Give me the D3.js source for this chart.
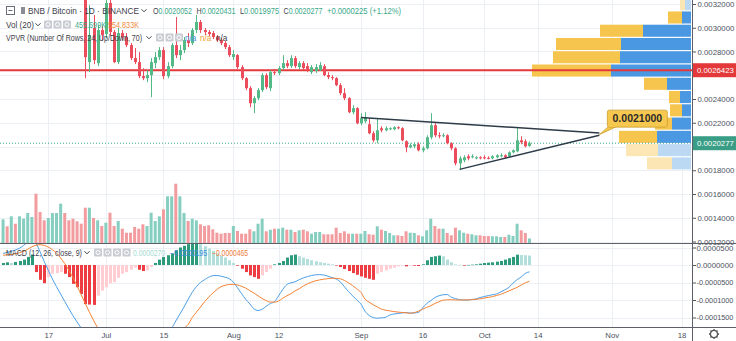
<!DOCTYPE html>
<html><head><meta charset="utf-8">
<script src="https://cdn.jsdelivr.net/npm/d3@7"></script>
<style>html,body{margin:0;padding:0;background:#fff;}svg{display:block;font-family:"Liberation Sans",Arial,sans-serif;}</style>
</head><body><svg id="c" width="736" height="341"></svg>
<script>
// ---------------- DATA (prices in units of 0.0000001 BTC) ----------------
const START_DATE = "2019-06-06";
const PRICE_UNIT = 1e-7;
const open = [40000,40800,40100,41500,40600,41300,42000,42600,43200,41000,39800,39300,40100,40900,41400,42300,40700,39600,38400,35000,
33000,27106,29975,27021,29806,29469,32085,29637,27106,29553,
29215,28540,27443,27106,25924,25755,26009,27021,27528,28118,
25924,26768,28540,27696,28118,28962,28709,29806,30481,29806,
29637,29553,29215,28962,28709,28371,27528,27696,26684,25755,
24911,23646,24068,24743,26009,24911,26262,26177,26599,27021,
26768,27443,26684,27021,26768,26262,26346,26431,26768,26009,
25840,25755,25165,24490,24068,22886,23224,21958,22127,21873,
21114,20523,21536,21367,21451,21451,21620,21536,20438,19932,
20017,20186,19679,19848,20776,21789,20945,20860,20945,20270,
19848,18582,18835,19173,19089,19004,19089,19089,19046,19004,
19089,19173,19257,19173,19511,19595,20523,20438,20052];
const high = [41200,41000,41900,41800,41700,42400,43100,43600,43500,41400,40200,40600,41300,41800,42800,42500,41000,39900,38700,35400,
33400,31916,31072,30228,30144,32760,32338,29806,29975,29806,
29553,28709,28287,27949,26599,26431,27443,27949,28371,28371,
27106,28709,30903,28540,29215,29553,29975,31072,30650,29975,
29806,29722,29384,29131,28878,28540,28118,27781,26853,25840,
25080,24236,24911,26177,26177,26431,26515,26768,27696,27274,
27696,27612,27190,27190,27021,26853,26937,27106,26937,26262,
26009,25840,25333,24911,24152,23477,23308,22802,22886,22380,
21283,22380,21705,21705,21620,21705,21705,21620,20523,20270,
20354,20354,20017,20945,22802,21958,21198,21114,21029,20354,
19932,19173,19257,19342,19342,19173,19173,19257,19173,19257,
19342,19426,19342,19595,19764,21536,20860,20607,20431];
const low = [39500,39700,39900,40200,40300,41000,41700,42300,40200,39300,38900,39000,39800,40600,41100,40300,39200,37900,34800,32800,
25755,26262,26937,26768,28962,29131,29300,27021,26937,28962,
28371,27274,26937,25755,25587,25418,24152,26599,27274,25671,
25755,26599,27443,27274,27865,28371,28540,29553,29553,29384,
29300,29047,28794,28540,28203,27528,27274,26515,25587,24743,
23308,22802,23899,24574,24827,24658,26009,26009,26431,26599,
26599,26599,26515,26431,26262,26093,26177,26346,25924,25671,
25587,25080,24321,23899,22802,22717,21873,21789,21958,21029,
20354,20270,21198,21283,21367,21367,21451,20438,19511,19848,
19848,19595,19511,19764,20607,20776,20692,20776,20186,19679,
18413,18076,18667,18835,19004,18920,18920,18920,18920,18920,
19004,19089,19004,19089,19426,19511,20186,19932,19975];
const close = [40800,40100,41500,40600,41300,42000,42600,43200,41000,39800,39300,40100,40900,41400,42300,40700,39600,38400,35000,33000,
27528,29384,27274,29806,29384,32085,29637,27106,29553,29215,
28540,27443,27106,25924,25755,26009,27106,27528,28118,25924,
26768,28540,27696,28118,28962,28709,29806,30481,29806,29637,
29469,29215,28962,28709,28371,27696,27781,26684,25755,24911,
23646,24068,24743,26009,24996,26262,26177,26599,27021,26768,
27443,26768,27021,26599,26431,26684,26684,26853,26009,25840,
25755,25165,24490,24068,22886,23224,21958,22380,22464,21114,
20523,21367,21367,21536,21536,21620,21536,20523,19932,20101,
20186,19679,19848,20776,21789,20945,20860,20945,20270,19848,
18582,19004,19089,19004,19173,19089,19004,19004,19004,19173,
19257,19257,19089,19511,19679,20523,20354,20017,20277];
// volume in thousands (K)
const volume = [2370,1670,2670,1930,2670,2430,3000,2600,4930,3100,2270,2500,3000,3000,3930,3000,2270,2430,2170,1930,
3530,3530,2500,2270,1700,2030,3030,1700,2200,1430,1030,1030,1600,1430,1870,1700,3030,2200,2670,3370,
4670,4670,5930,4670,3000,2200,2430,2270,1870,1700,1770,1370,1030,930,1000,1000,1700,1200,930,930,
1370,1170,1930,2430,1170,1330,1430,1430,1530,1330,1330,1100,1270,1330,1170,930,1100,1100,870,870,
870,1530,1000,1170,930,930,930,930,1200,870,830,1670,1330,1200,1000,770,770,700,1170,1030,
1000,770,670,1270,2430,1700,1430,1430,1000,770,1530,1270,1030,930,870,770,770,700,700,670,
670,600,600,830,700,1930,1270,1000,456];
// MACD (12,26,close,9), units of 0.0000001
const macdLine = [330,360,390,430,480,560,650,700,620,380,100,-150,-400,-620,-830,-1040,-1250,-1450,-1630,-1800,
-1960,-2120,-2260,-2380,-2450,-2460,-2430,-2400,-2360,-2320,-2280,-2250,-2220,-2200,-2180,-2150,-2110,-2060,-2010,-1960,
-1900,-1800,-1600,-1400,-1200,-980,-780,-620,-500,-420,-350,-305,-300,-320,-350,-390,-490,-650,-820,-980,
-1110,-1250,-1300,-1265,-1180,-1100,-1050,-880,-700,-560,-510,-480,-420,-370,-330,-300,-280,-275,-285,-320,
-360,-400,-480,-620,-760,-880,-1000,-1110,-1320,-1440,-1500,-1520,-1510,-1495,-1430,-1400,-1385,-1370,-1360,-1375,
-1370,-1355,-1230,-1100,-1020,-930,-880,-850,-845,-920,-960,-990,-1000,-1000,-985,-970,-930,-900,-875,-850,
-827,-770,-710,-640,-520,-420,-340,-240,-195];
const signalLine = [280,290,300,320,350,390,450,520,565,580,560,510,440,340,200,40,-150,-360,-600,-850,
-1100,-1350,-1580,-1790,-1960,-2100,-2200,-2270,-2320,-2340,-2340,-2320,-2300,-2270,-2240,-2200,-2160,-2120,-2070,-2020,
-1970,-1920,-1880,-1840,-1800,-1700,-1500,-1350,-1200,-1050,-920,-800,-700,-620,-580,-558,-555,-570,-610,-660,
-730,-800,-880,-960,-1020,-1060,-1060,-1030,-950,-880,-820,-740,-680,-600,-540,-490,-450,-425,-405,-390,
-378,-380,-395,-440,-510,-587,-680,-779,-972,-1060,-1135,-1200,-1260,-1290,-1310,-1330,-1345,-1356,-1365,-1376,
-1360,-1320,-1265,-1210,-1164,-1100,-1050,-1005,-995,-991,-1000,-1000,-1000,-998,-991,-980,-965,-945,-925,-904,
-870,-840,-790,-740,-690,-640,-570,-510,-465];
const histogram = [58,77,58,87,115,154,231,298,-202,-423,-519,-346,-250,-231,-202,-250,-346,-539,-635,-827,
-1116,-1130,-1140,-875,-731,-635,-519,-491,-366,-250,-202,-135,-77,-135,-173,-154,-58,58,154,231,
279,327,423,500,548,596,635,683,596,539,471,404,327,260,212,135,58,-19,-106,-202,
-298,-346,-394,-298,-202,-106,19,58,115,212,279,298,250,212,173,135,106,77,58,38,
19,-10,-58,-115,-173,-231,-279,-327,-366,-394,-423,-250,-202,-154,-106,-77,-38,-19,-38,-19,
-19,-29,19,135,231,250,269,250,154,77,19,5,-19,3,10,19,38,58,67,77,
96,115,154,192,231,295,285,280,270];
// Visible range volume profile rows (bottom price of each row), volumes in K
const vpvrRowBottom = [18020,19137,20254,21371,22488,23605,24722,25839,26956,28073,29190,30307,31424];
const vpvrRowSize = 1117;
const vpvrUp = [1900,3300,3400,1900,900,1100,2400,8000,7100,7000,4800,900,600];
const vpvrDown = [2500,3200,3800,1700,1200,1100,2300,7900,6700,6500,4300,1400,500];
const vpvrInValueArea = [false,false,true,true,true,true,true,true,true,true,true,true,false];
const pocPrice = 26423;
const lastPrice = 20277;
// drawn trend lines
const upperTrend = [["2019-09-01",22439],["2019-10-29",21140]];
const lowerTrend = [["2019-09-25",18076],["2019-10-29",20950]];
const calloutPoint = ["2019-10-29",21000];
const calloutLabel = "0.0021000";
// axes
const priceTicks = [12000,14000,16000,18000,20000,22000,24000,26000,28000,30000,32000];
const macdTicks = [500,0,-500,-1000,-1500];
const timeTicks = ["2019-06-17","2019-07-01","2019-07-15","2019-08-01","2019-08-12","2019-09-01","2019-09-16","2019-10-01","2019-10-14","2019-11-01","2019-11-18"];
const timeTickLabels = ["17","Jul","15","Aug","12","Sep","16","Oct","14","Nov","18"];
const legendOHLC = [["O","0.0020052"],["H","0.0020431"],["L","0.0019975"],["C","0.0020277"]];
const legendChange = "+0.0000225 (+1.12%)";
const volLegend = ["455.699K","554.833K"];
const macdLegend = ["0.0000270","\u22120.0000195","\u22120.0000465"];

// ---------------- LAYOUT ----------------
const W = 736, H = 341, PR = 692, MB = 243, MB2 = 327;
const parse = d3.utcParse("%Y-%m-%d");
const start = parse(START_DATE);
const dates = open.map((_, i) => d3.utcDay.offset(start, i));
const bars = dates.map((d, i) => ({d, o: open[i], h: high[i], l: low[i], c: close[i], v: volume[i],
  m: macdLine[i], s: signalLine[i], hist: histogram[i], prev: i ? histogram[i-1] : 0}));

const x = d3.scaleUtc().domain([parse("2019-06-17"), parse("2019-11-18")]).range([48.3, 681.6]);
const yP = d3.scaleLinear().domain([32000, 12000]).range([4, 241.5]);
const yV = d3.scaleLinear().domain([0, 10000]).range([MB, MB - 100]);
const yM = d3.scaleLinear().domain([0, -1500]).range([265, 317.5]);
const xVP = d3.scaleLinear().domain([0, 16000]).range([0, 160]);

const UP = "#53b987", DN = "#eb4d5c";
const svg = d3.select("#c");
svg.append("rect").attr("width", W).attr("height", H).attr("fill", "#fff");
const defs = svg.append("defs");
defs.append("clipPath").attr("id", "cm").append("rect").attr("x", 0).attr("y", 0).attr("width", PR).attr("height", MB);
defs.append("clipPath").attr("id", "cd").append("rect").attr("x", 0).attr("y", MB + 1).attr("width", PR).attr("height", MB2 - MB - 1);

// grid
const grid = svg.append("g").attr("stroke", "#eceff4").attr("stroke-width", 1);
grid.selectAll(".vg").data(timeTicks).join("line")
  .attr("x1", d => Math.round(x(parse(d))) + 0.5).attr("x2", d => Math.round(x(parse(d))) + 0.5)
  .attr("y1", 0).attr("y2", MB2);
grid.selectAll(".hg").data(priceTicks).join("line").attr("class", "hg")
  .attr("x1", 0).attr("x2", PR).attr("y1", d => Math.round(yP(d)) + 0.5).attr("y2", d => Math.round(yP(d)) + 0.5);
grid.selectAll(".mg").data(macdTicks).join("line").attr("class", "mg")
  .attr("x1", 0).attr("x2", PR).attr("y1", d => Math.round(yM(d)) + 0.5).attr("y2", d => Math.round(yM(d)) + 0.5);

const main = svg.append("g").attr("clip-path", "url(#cm)");

// volume profile
const vp = main.append("g");
vpvrRowBottom.forEach((b, i) => {
  const yt = yP(b + vpvrRowSize) + 0.6, yb = yP(b) - 0.6;
  const wu = xVP(vpvrUp[i]), wd = xVP(vpvrDown[i]);
  const va = vpvrInValueArea[i];
  vp.append("rect").attr("x", 691 - wu).attr("y", yt).attr("width", wu).attr("height", yb - yt)
    .attr("fill", va ? "#4a97e2" : "#bcd9f3");
  vp.append("rect").attr("x", 691 - wu - wd).attr("y", yt).attr("width", wd).attr("height", yb - yt)
    .attr("fill", va ? "#f6c54d" : "#fbe6b4");
});

// volume bars
main.append("g").selectAll("rect").data(bars).join("rect")
  .attr("x", d => x(d.d) - 1.5).attr("width", 3)
  .attr("y", d => yV(d.v)).attr("height", d => MB - yV(d.v))
  .attr("fill", d => d.c >= d.o ? "#86cfc0" : "#f29c9f");

// POC line & last price line
main.append("line").attr("x1", 0).attr("x2", PR).attr("y1", yP(pocPrice)).attr("y2", yP(pocPrice))
  .attr("stroke", "#e3393a").attr("stroke-width", 2);
main.append("line").attr("x1", 0).attr("x2", PR).attr("y1", yP(lastPrice)).attr("y2", yP(lastPrice))
  .attr("stroke", "#3aa88a").attr("stroke-width", 1).attr("stroke-dasharray", "1,2");

// legends (candles drawn over them, as in reference)
const leg = svg.append("g").attr("fill", "#3d404a");
function chevron(g, cx, cy) {
  g.append("path").attr("d", `M${cx-2.5},${cy-1.2}L${cx},${cy+1.3}L${cx+2.5},${cy-1.2}`)
    .attr("fill", "none").attr("stroke", "#3d404a").attr("stroke-width", 1);
}
function icons(g, x0, cy, n) {
  for (let k = 0; k < n; k++) {
    g.append("rect").attr("x", x0 + k * 9.5).attr("y", cy - 4).attr("width", 8).attr("height", 8)
      .attr("rx", 1).attr("fill", "#c9ccd3");
    g.append("rect").attr("x", x0 + k * 9.5 + 2).attr("y", cy - 2).attr("width", 4).attr("height", 4)
      .attr("rx", 2).attr("fill", "none").attr("stroke", "#fff").attr("stroke-width", 1);
  }
}
function ltext(g, x0, y0, txt, fill, len) {
  const t = g.append("text").attr("x", x0).attr("y", y0).attr("font-size", 8.2).attr("fill", fill).text(txt);
  if (len) t.attr("textLength", len).attr("lengthAdjust", "spacingAndGlyphs");
  return t;
}
leg.append("rect").attr("x", 6.5).attr("y", 6.5).attr("width", 8).attr("height", 8).attr("fill", "none").attr("stroke", "#6a6d78");
leg.append("line").attr("x1", 8.5).attr("x2", 12.5).attr("y1", 10.5).attr("y2", 10.5).attr("stroke", "#6a6d78");
leg.append("rect").attr("x", 21).attr("y", 7).attr("width", 4).attr("height", 7).attr("fill", "#8a8d96");
leg.append("text").attr("x", 28).attr("y", 14).attr("font-size", 8.6).attr("textLength", 111)
  .attr("lengthAdjust", "spacingAndGlyphs").text("BNB / Bitcoin \u00b7 1D \u00b7 BINANCE");
chevron(leg, 144, 10.5);
legendOHLC.forEach((p, k) => {
  const t = leg.append("text").attr("x", 153 + k * 43.5).attr("y", 14).attr("font-size", 8.2)
    .attr("textLength", 39).attr("lengthAdjust", "spacingAndGlyphs");
  t.append("tspan").attr("fill", "#3d404a").text(p[0]);
  t.append("tspan").attr("fill", "#3aa88a").text(p[1]);
});
ltext(leg, 327, 14, legendChange, "#3aa88a", 74);
ltext(leg, 6, 28, "Vol (20)", "#3d404a", 28);
chevron(leg, 38, 24.5);
icons(leg, 44, 24.5, 3);
ltext(leg, 75, 28, volLegend[0], "#3aa88a", 31);
ltext(leg, 108, 28, volLegend[1], "#f08a3c", 31);
ltext(leg, 6, 41, "VPVR (Number Of Rows, 24, Up/Down, 70)", "#3d404a", 136);
chevron(leg, 149, 37.5);
icons(leg, 156, 37.5, 3);
ltext(leg, 185, 41, "n/a", "#4a97e2");
ltext(leg, 200, 41, "n/a", "#f0a030");
ltext(leg, 216, 41, "n/a", "#3d404a");

// candles
const cg = main.append("g");
cg.selectAll("line").data(bars).join("line")
  .attr("x1", d => Math.round(x(d.d)) + 0.5).attr("x2", d => Math.round(x(d.d)) + 0.5)
  .attr("y1", d => yP(d.h)).attr("y2", d => yP(d.l))
  .attr("stroke", d => d.c >= d.o ? UP : DN).attr("stroke-width", 1);
cg.selectAll("rect").data(bars).join("rect")
  .attr("x", d => Math.round(x(d.d)) - 1).attr("width", 3)
  .attr("y", d => yP(Math.max(d.o, d.c)))
  .attr("height", d => Math.max(1, Math.abs(yP(d.o) - yP(d.c))))
  .attr("fill", d => d.c >= d.o ? UP : DN);

// trend lines
const tl = d3.line().x(p => x(parse(p[0]))).y(p => yP(p[1]));
[upperTrend, lowerTrend].forEach(t => main.append("path").attr("d", tl(t))
  .attr("fill", "none").attr("stroke", "#2d3b48").attr("stroke-width", 1.4));

// callout
const ax = x(parse(calloutPoint[0])), ay = yP(calloutPoint[1]);
main.append("path").attr("d", `M${ax+9},${ay-8}L${ax},${ay}L${ax+17},${ay-8}Z`)
  .attr("fill", "#f7c84f").attr("stroke", "#c9a030").attr("stroke-width", 0.8);
main.append("rect").attr("x", ax + 8).attr("y", ay - 24.5).attr("width", 60).attr("height", 17)
  .attr("rx", 2).attr("fill", "#f7c84f").attr("stroke", "#c9a030").attr("stroke-width", 0.8);
main.append("path").attr("d", `M${ax+9.5},${ay-8.2}L${ax+16.5},${ay-8.2}`).attr("stroke", "#f7c84f").attr("stroke-width", 1.2);
main.append("text").attr("x", ax + 38).attr("y", ay - 12.5).attr("text-anchor", "middle")
  .attr("font-size", 10.5).attr("font-weight", "bold").attr("fill", "#2b2b2b").text(calloutLabel);

// MACD pane
const md = svg.append("g").attr("clip-path", "url(#cd)");
md.selectAll("rect").data(bars).join("rect")
  .attr("x", d => Math.round(x(d.d)) - 1).attr("width", 3)
  .attr("y", d => Math.min(yM(0), yM(d.hist)))
  .attr("height", d => Math.max(0.5, Math.abs(yM(d.hist) - yM(0))))
  .attr("fill", d => d.hist >= 0 ? (d.hist >= d.prev ? "#2b9b7b" : "#b2dfdb") : (d.hist <= d.prev ? "#ee3d42" : "#ffcdd2"));
const ml = d3.line().x(d => x(d.d)).curve(d3.curveMonotoneX);
md.append("path").attr("d", ml.y(d => yM(d.m))(bars)).attr("fill", "none").attr("stroke", "#4c9fe6").attr("stroke-width", 1);
md.append("path").attr("d", ml.y(d => yM(d.s))(bars)).attr("fill", "none").attr("stroke", "#f58233").attr("stroke-width", 1);

// MACD legend
const ml2 = svg.append("g").attr("fill", "#3d404a");
ltext(ml2, 6, 256, "MACD (12, 26, close, 9)", "#3d404a", 76);
chevron(ml2, 87, 252.5);
icons(ml2, 94, 252.5, 4);
ltext(ml2, 133, 256, macdLegend[0], "#a6dbd3", 32);
ltext(ml2, 170, 256, macdLegend[1], "#3d8fe0", 37);
ltext(ml2, 212, 256, macdLegend[2], "#f07a35", 36);

// axes
const hiddenUnderTags = [20000, 26000];
const fmtP = v => hiddenUnderTags.includes(v) ? "" : (v * PRICE_UNIT).toFixed(7);
const fmtM = v => (v < 0 ? "-" : "") + Math.abs(v * PRICE_UNIT).toFixed(7);
function styleAxis(g) {
  g.select(".domain").remove();
  g.selectAll(".tick line").attr("stroke", "#555");
  g.selectAll(".tick text").attr("fill", "#4c525e").attr("font-size", 7.8).attr("font-family", "Liberation Sans, Arial, sans-serif");
}
svg.append("g").attr("transform", `translate(${PR},0)`)
  .call(d3.axisRight(yP).tickValues(priceTicks).tickSize(4).tickPadding(1.5).tickFormat(fmtP)).call(styleAxis);
svg.append("g").attr("transform", `translate(${PR},0)`)
  .call(d3.axisRight(yM).tickValues(macdTicks).tickSize(4).tickPadding(0.5).tickFormat(fmtM)).call(styleAxis)
  .call(g => g.selectAll(".tick text").filter(d => d < 0).attr("font-size", 7.3));
svg.append("g").attr("transform", `translate(0,${MB2})`)
  .call(d3.axisBottom(x).tickValues(timeTicks.map(parse)).tickSize(0).tickPadding(5)
    .tickFormat((d, i) => timeTickLabels[i])).call(styleAxis);

// price labels on axis
function priceTag(v, col) {
  const yy = yP(v);
  svg.append("rect").attr("x", PR).attr("y", yy - 7).attr("width", W - PR).attr("height", 14).attr("fill", col);
  svg.append("text").attr("x", PR + 5).attr("y", yy + 3).attr("font-size", 7.8).attr("fill", "#fff").text((v * PRICE_UNIT).toFixed(7));
}
priceTag(pocPrice, "#e3393a");
priceTag(lastPrice, "#3a9e86");

// frame lines
const fr = svg.append("g").attr("stroke", "#5d606b").attr("stroke-width", 1);
fr.append("line").attr("x1", PR + 0.5).attr("x2", PR + 0.5).attr("y1", 0).attr("y2", H);
fr.append("line").attr("x1", 0).attr("x2", W).attr("y1", MB + 0.5).attr("y2", MB + 0.5);
fr.append("line").attr("x1", 0).attr("x2", W).attr("y1", MB2 + 0.5).attr("y2", MB2 + 0.5);

// gear icon
const gear = svg.append("g").attr("transform", "translate(714,334)");
gear.append("circle").attr("r", 3.6).attr("fill", "none").attr("stroke", "#555").attr("stroke-width", 1.3);
d3.range(8).forEach(k => {
  const a = k * Math.PI / 4;
  gear.append("line").attr("x1", Math.cos(a) * 3.6).attr("y1", Math.sin(a) * 3.6)
    .attr("x2", Math.cos(a) * 5).attr("y2", Math.sin(a) * 5).attr("stroke", "#555").attr("stroke-width", 1.3);
});
</script></body></html>
